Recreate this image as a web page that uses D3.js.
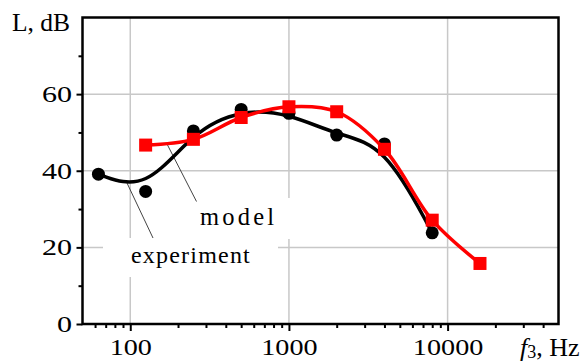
<!DOCTYPE html>
<html>
<head>
<meta charset="utf-8">
<script src="https://cdn.jsdelivr.net/npm/d3@7/dist/d3.min.js"></script>
<style>
  html, body { margin: 0; padding: 0; background: #fff; }
  svg { display: block; }
  text { font-family: "Liberation Serif", "Times New Roman", serif; fill: #000; }
</style>
</head>
<body>
<svg id="chart" width="584" height="361"></svg>
<script>
// Measured sound level versus frequency, with the model prediction
const expFreq = [63, 125, 250, 500, 1000, 2000, 4000, 8000];
const expLevel = [39.1, 34.6, 50.4, 56.0, 55.0, 49.3, 47.0, 23.8];
const modelFreq = [125, 250, 500, 1000, 2000, 4000, 8000, 16000];
const modelLevel = [46.7, 48.2, 53.9, 56.7, 55.4, 45.6, 27.1, 15.8];

const xMajorTicks = [100, 1000, 10000];
const xMinorTicks = [60, 70, 80, 90, 200, 300, 400, 500, 600, 700, 800, 900,
  2000, 3000, 4000, 5000, 6000, 7000, 8000, 9000, 20000, 30000, 40000];
const yMajorTicks = [0, 20, 40, 60];
const yMinorTicks = [10, 30, 50, 70];
const xDomain = [50, 50000];
const yDomain = [0, 80];

const svg = d3.select("#chart");
const pLeft = 82.5, pRight = 558.5, pTop = 17.5, pBottom = 324;
const labelStretch = 1.2;

const x = d3.scaleLog().domain(xDomain).range([pLeft, pRight]);
const y = d3.scaleLinear().domain(yDomain).range([pBottom, pTop]);

// grid
const grid = svg.append("g").attr("stroke", "#c8c8c8").attr("stroke-width", 1.5);
grid.selectAll("line.v").data(xMajorTicks).join("line").attr("class", "v")
  .attr("x1", d => x(d)).attr("x2", d => x(d)).attr("y1", pTop).attr("y2", pBottom);
grid.selectAll("line.h").data(yMajorTicks.filter(d => d > 0)).join("line").attr("class", "h")
  .attr("x1", pLeft).attr("x2", pRight).attr("y1", d => y(d)).attr("y2", d => y(d));

// white boxes behind the curve labels
svg.append("rect").attr("x", 103).attr("y", 238).attr("width", 175).attr("height", 39).attr("fill", "#fff");
svg.append("rect").attr("x", 196).attr("y", 198).attr("width", 94).attr("height", 41).attr("fill", "#fff");

// leader lines
svg.append("line").attr("x1", 127).attr("y1", 183).attr("x2", 153).attr("y2", 238)
  .attr("stroke", "#444").attr("stroke-width", 1);
svg.append("line").attr("x1", 167).attr("y1", 144).attr("x2", 196.5).attr("y2", 201.5)
  .attr("stroke", "#444").attr("stroke-width", 1);

svg.append("text").attr("x", 131).attr("y", 263).attr("font-size", 24)
  .attr("letter-spacing", 1.2).text("experiment");
svg.append("text").attr("x", 200).attr("y", 225).attr("font-size", 24.5)
  .attr("letter-spacing", 3.2).text("model");

// experiment: smoothed curve + circles
const expData = expFreq.map((f, i) => [f, expLevel[i]]);
const modelData = modelFreq.map((f, i) => [f, modelLevel[i]]);

svg.append("path").datum(expData)
  .attr("fill", "none").attr("stroke", "#000").attr("stroke-width", 3.5)
  .attr("d", d3.line().x(d => x(d[0])).y(d => y(d[1])).curve(d3.curveBasis));
svg.append("g").selectAll("circle").data(expData).join("circle")
  .attr("cx", d => x(d[0])).attr("cy", d => y(d[1])).attr("r", 6.5).attr("fill", "#000");

// model: curve + squares
svg.append("path").datum(modelData)
  .attr("fill", "none").attr("stroke", "#f00").attr("stroke-width", 3.5)
  .attr("d", d3.line().x(d => x(d[0])).y(d => y(d[1])).curve(d3.curveCatmullRom));
svg.append("g").selectAll("rect").data(modelData).join("rect")
  .attr("x", d => x(d[0]) - 6.5).attr("y", d => y(d[1]) - 6.5)
  .attr("width", 13).attr("height", 13).attr("fill", "#f00");

// axes
const xAxis = svg.append("g").attr("transform", `translate(0,${pBottom})`)
  .call(d3.axisBottom(x).tickValues(xMajorTicks).tickFormat(d3.format("d")).tickSize(7).tickPadding(7));
const xMinor = svg.append("g").attr("transform", `translate(0,${pBottom})`)
  .call(d3.axisBottom(x).tickValues(xMinorTicks).tickFormat("").tickSize(4));
const yAxis = svg.append("g").attr("transform", `translate(${pLeft},0)`)
  .call(d3.axisLeft(y).tickValues(yMajorTicks).tickSize(6).tickPadding(4));
const yMinor = svg.append("g").attr("transform", `translate(${pLeft},0)`)
  .call(d3.axisLeft(y).tickValues(yMinorTicks).tickFormat("").tickSize(4));

[xAxis, xMinor, yAxis, yMinor].forEach(g => {
  g.select(".domain").remove();
  g.selectAll(".tick line").attr("stroke", "#000").attr("stroke-width", 2);
  g.selectAll("text").attr("font-size", 23.5).attr("fill", "#000");
});
// widen the tick numerals around their anchors
xAxis.selectAll(".tick text").attr("transform", `scale(${labelStretch},1)`);
yAxis.selectAll(".tick text").attr("x", 0)
  .attr("transform", `translate(-10.5,0) scale(${labelStretch + 0.08},1)`);

// frame
svg.append("rect").attr("x", pLeft).attr("y", pTop).attr("width", pRight - pLeft).attr("height", pBottom - pTop)
  .attr("fill", "none").attr("stroke", "#000").attr("stroke-width", 2.5);

// axis titles
svg.append("text").attr("x", 12).attr("y", 31).attr("font-size", 25.5).text("L, dB");
const xt = svg.append("text").attr("x", 520).attr("y", 356).attr("font-size", 26);
xt.append("tspan").attr("font-style", "italic").text("f");
xt.append("tspan").attr("font-size", 18).attr("dy", 2).text("3");
xt.append("tspan").attr("dy", -2).text(", Hz");
</script>
</body>
</html>
